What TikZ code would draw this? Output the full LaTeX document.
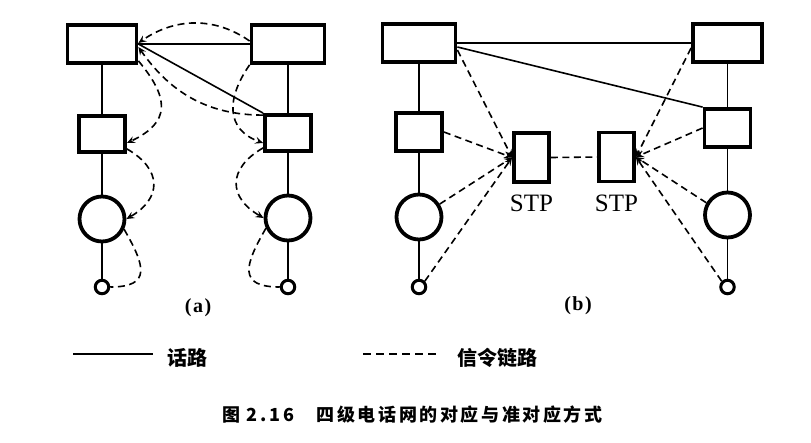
\documentclass[tikz,border=0pt]{standalone}
\usepackage{fontspec}
\setmainfont{Liberation Serif}
\newfontfamily\cjk{Noto Sans CJK SC}
\usetikzlibrary{arrows.meta}
\newcommand\gp{\kern2.6pt}
\tikzset{
  box/.style={draw, line width=3.8pt, rectangle, inner sep=0pt},
  ring/.style={draw, line width=3.8pt, circle, inner sep=0pt},
  smallring/.style={draw, line width=3pt, circle, inner sep=0pt, minimum size=13.5pt},
  voice/.style={line width=1.6pt},
  sig/.style={line width=1.6pt, dash pattern=on 7pt off 4.5pt},
  tip/.style={-{Stealth[length=8pt,width=7pt,inset=3pt]}},
  stplabel/.style={font=\fontsize{25}{25}\selectfont, inner sep=0pt},
  panellabel/.style={font=\fontsize{20}{20}\selectfont\bfseries, inner sep=0pt},
  legendtext/.style={font=\cjk\bfseries\fontsize{20}{20}\selectfont, inner sep=0pt},
  captiontext/.style={font=\cjk\bfseries\fontsize{18}{18}\selectfont, inner sep=0pt},
}
\begin{document}
\begin{tikzpicture}[x=1pt,y=1pt]
\useasboundingbox (0,0) rectangle (811,-442);
% ---------------- panel (a)
\node[box,minimum width=69pt,minimum height=38pt] (aTL) at (102,-44) {};
\node[box,minimum width=73pt,minimum height=38pt] (aTR) at (288,-44) {};
\node[box,minimum width=46pt,minimum height=36pt] (aML) at (102,-134) {};
\node[box,minimum width=46pt,minimum height=36pt] (aMR) at (288,-133) {};
\node[ring,minimum size=45pt] (aCL) at (102,-219) {};
\node[ring,minimum size=45pt] (aCR) at (288,-218) {};
\node[smallring] (aSL) at (102,-287) {};
\node[smallring] (aSR) at (288,-287) {};
\draw[voice] (aTL) -- (aML) -- (aCL) -- (aSL);
\draw[voice] (aTR) -- (aMR) -- (aCR) -- (aSR);
\draw[voice] (aTL.east) -- (aTR.west);
\draw[voice] (aTL.east) -- (aMR.north west);
\draw[sig,tip] ([yshift=3pt]aTR.west) to[out=145,in=35] ([yshift=1pt]aTL.east);
\draw[sig,tip] ([yshift=-2pt]aMR.north west) to[out=180,in=-55] ([yshift=-3pt]aTL.east);
\draw[sig,tip] (aTR.south west) to[out=235,in=160,looseness=1.3] ([yshift=-10pt]aMR.west);
\draw[sig,tip] ([yshift=4pt]aTL.south east) to[out=-50,in=25,looseness=1.5] ([yshift=-9pt]aML.east);
\draw[sig,tip] ([yshift=5pt]aML.south east) to[out=-30,in=30,looseness=1.5] (aCL.east);
\draw[sig] (aCL.-25) to[out=-60,in=0,looseness=1.8] (aSL.east);
\draw[sig,tip] ([yshift=5pt]aMR.south west) to[out=210,in=150,looseness=1.5] (aCR.west);
\draw[sig] (aCR.205) to[out=240,in=180,looseness=1.8] (aSR.west);
\node[panellabel] (la) at (198,-308) {(\kern1.5pt a\kern1.5pt)};
% ---------------- panel (b)
\node[box,minimum width=73pt,minimum height=38pt] (bTL) at (419,-43) {};
\node[box,minimum width=69pt,minimum height=38pt] (bTR) at (727.5,-43) {};
\node[box,minimum width=46pt,minimum height=38pt] (bML) at (419,-132) {};
\node[box,minimum width=46pt,minimum height=38pt] (bMR) at (727.5,-128) {};
\node[box,minimum width=35pt,minimum height=49pt] (S1) at (531.5,-157.5) {};
\node[box,minimum width=35pt,minimum height=49pt] (S2) at (616.5,-157) {};
\node[ring,minimum size=45pt] (bCL) at (419,-217) {};
\node[ring,minimum size=45pt] (bCR) at (727.5,-215) {};
\node[smallring] (bSL) at (419,-287) {};
\node[smallring] (bSR) at (727.5,-287) {};
\draw[voice] (bTL) -- (bML) -- (bCL) -- (bSL);
\draw[voice] (bTR) -- (bMR) -- (bCR) -- (bSR);
\draw[voice] (bTL.east) -- (bTR.west);
\draw[voice] ([yshift=-4pt]bTL.east) -- (bMR.north west);
\draw[sig,tip] ([yshift=-7pt]bTL.east) -- (S1.west);
\draw[sig,tip] (bML.east) -- (S1.west);
\draw[sig,tip] (bCL.32) -- (S1.west);
\draw[sig,tip] (bSL.45) -- (S1.west);
\draw[sig,tip] ([yshift=-5pt]bTR.west) -- (S2.east);
\draw[sig,tip] (bMR.west) -- (S2.east);
\draw[sig,tip] (bCR.150) -- (S2.east);
\draw[sig,tip] (bSR.135) -- (S2.east);
\draw[sig] (S1.east) -- (S2.west);
\node[stplabel] (t1) at (531.5,-203) {STP};
\node[stplabel] (t2) at (616.5,-203) {STP};
\node[panellabel] (lb) at (578,-306) {(\kern1.5pt b\kern1.5pt)};
% ---------------- legend
\coordinate (v1) at (73,-354);
\coordinate (v2) at (153,-354);
\draw[line width=1.8pt] (v1) -- (v2);
\node[legendtext] (vt) at (187,-358) {话路};
\coordinate (s1) at (363,-354);
\coordinate (s2) at (437,-354);
\draw[line width=1.8pt, dash pattern=on 8pt off 5pt] (s1) -- (s2);
\node[legendtext] (st) at (497,-358) {信令链路};
% ---------------- caption
\node[captiontext] (cap) at (412.5,-415) {图\kern6pt 2\kern3pt.\kern3pt 1\kern3pt 6\kern22pt 四\gp 级\gp 电\gp 话\gp 网\gp 的\gp 对\gp 应\gp 与\gp 准\gp 对\gp 应\gp 方\gp 式};
\end{tikzpicture}
\end{document}
